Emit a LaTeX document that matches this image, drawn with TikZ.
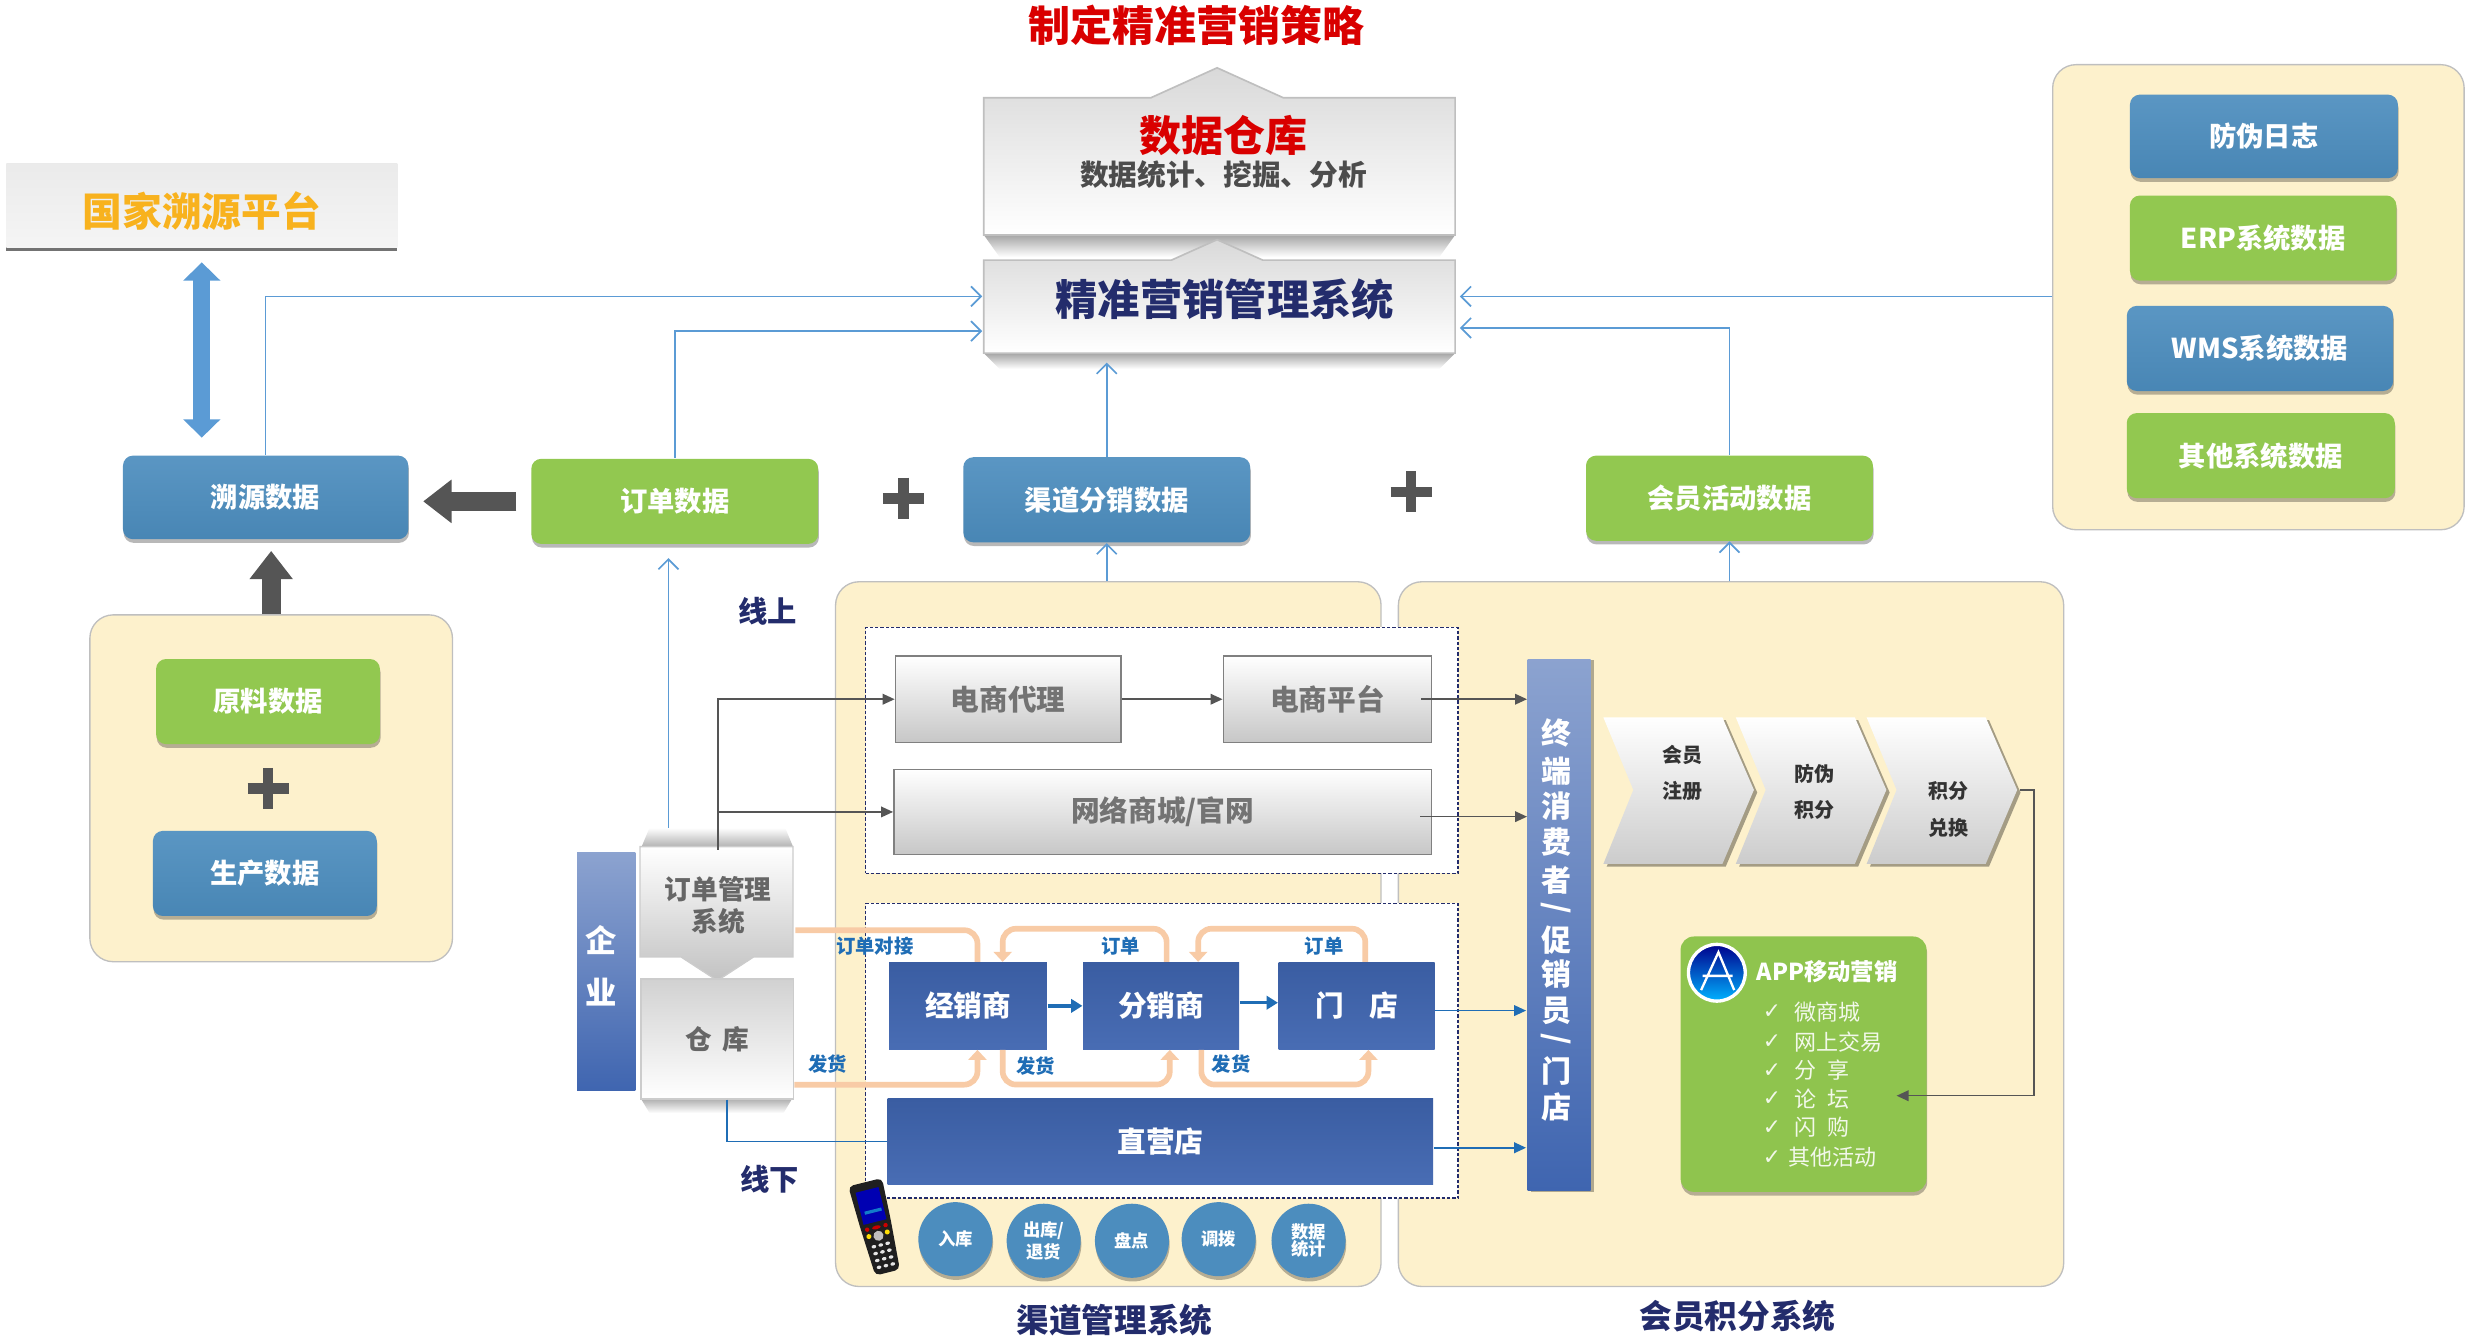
\documentclass[tikz,border=0pt]{standalone}
\usepackage{fontspec}
\setmainfont{Noto Sans CJK SC}
\newfontfamily\Dsym{DejaVu Sans}
\usetikzlibrary{arrows.meta,shadows}
\newcommand{\Du}{0.47296pt}
\newcommand{\Dfs}[1]{\fontsize{#1}{#1}\selectfont}
\definecolor{Cbeige}{HTML}{FDF1CC}
\definecolor{Cblue}{HTML}{4C8DBE}
\definecolor{Cgreen}{HTML}{92C850}
\definecolor{Cnavy}{HTML}{232C6C}
\definecolor{Cpeach}{HTML}{F8CBA6}
\definecolor{Cdeep}{HTML}{3F65B0}
\definecolor{Cline}{HTML}{5B9BD5}
\definecolor{Clabel}{HTML}{1F6DB5}
\definecolor{Cdark}{HTML}{555555}
\definecolor{Cgold}{HTML}{F8B21E}
\tikzset{%
    Dsz/.style 2 args={minimum width=#1*\Du, minimum height=#2*\Du, inner sep=0pt},
    Dshadow/.style={general shadow={shadow xshift=0.2pt, shadow yshift=-1.1pt, fill=black, opacity=0.28}},
    Dbluebox/.style={rounded corners=3pt, top color=Cblue!92!white, bottom color=Cblue!95!black, Dshadow,
        text=white, font=\Dfs{8.2}\bfseries},
    Dgreenbox/.style={rounded corners=3pt, fill=Cgreen, Dshadow, text=white, font=\Dfs{8.2}\bfseries},
    Dpanel/.style={rounded corners=7pt, fill=Cbeige, draw=black!25, line width=0.4pt},
    Ddash/.style={fill=white, draw=Cnavy, dash pattern=on 1pt off 0.6pt, line width=0.5pt},
    Dgraybox/.style={draw=black!50, line width=0.5pt, top color=white, bottom color=black!22,
        text=black!55, font=\Dfs{8.6}\bfseries},
    Ddeepbox/.style={top color=Cdeep!92!black, bottom color=Cdeep!95!white, text=white, font=\Dfs{8.6}\bfseries},
    Dround/.style={circle, minimum size=47*\Du, inner sep=0pt, fill=Cblue, Dshadow, text=white,
        font=\Dfs{5.2}\bfseries, align=center},
    Dfade/.style={top color=black!35, bottom color=white},
    Dthin/.style={draw=Cline, line width=0.5pt, -{Straight Barb[length=3pt,width=6pt]}},
    Dgray/.style={draw=Cdark, line width=0.45pt, -{Triangle[length=3.6pt,width=3.2pt]}},
    Dsteel/.style={draw=Clabel, line width=0.5pt, -{Triangle[length=3.6pt,width=3.2pt]}},
    Dblock/.style={draw=Cdark, line width=5.7pt, -{Triangle[length=8.5pt,width=12.5pt]}},
    Dpeach/.style={draw=Cpeach, line width=1.7pt, rounded corners=4pt},
    Dpeachtip/.style={Dpeach, -{Triangle[length=3pt,width=5.4pt]}},
    Dtag/.style={text=Clabel, font=\Dfs{5.8}\bfseries},
    Dtitle/.style={text=Cnavy, font=\Dfs{9.8}\bfseries}
}

\begin{document}
\begin{tikzpicture}[x=\Du,y=-\Du]
    \useasboundingbox (0,0) rectangle (1568,850);
    % panels
    \node [Dpanel,Dsz={230}{220}] (Nleftp) at (172,500) {};
    \node [Dpanel,Dsz={261}{295}] (Nrightp) at (1432.5,188.5) {};
    \node [Dpanel,Dsz={346}{447}] (Nchanp) at (703,592.5) {};
    \node [Dpanel,Dsz={422}{447}] (Nmembp) at (1098,592.5) {};
    \node [Ddash,Dsz={376}{156}] (Nonline) at (737,476) {};
    \node [Ddash,Dsz={376}{187}] (Noffline) at (737,666.5) {};
    % top stack
    \node [red!85!black,font=\Dfs{12.6}\bfseries] (Nstrategy) at (759,16) {制定精准营销策略};
    \path [Dfade] (624,149)--(923,149)--(913,163)--(634,163)--cycle;
    \path [draw=black!25,line width=0.5pt,top color=black!15,middle color=black!5,bottom color=white]
        (624,62)--(730,62)--(772,43)--(814,62)--(923,62)--(923,149)--(624,149)--cycle;
    \node [Dsz={299}{87}] (Nhouse) at (773.5,105.5) {};
    \node [red!85!black,font=\Dfs{12.6}\bfseries] (Nhouset) at (776,86) {数据仓库};
    \node [black!70,font=\Dfs{8.6}\bfseries] (Nhouses) at (776,111) {数据统计、挖掘、分析};
    \path [Dfade] (624,224)--(923,224)--(913,234)--(634,234)--cycle;
    \path [draw=black!25,line width=0.5pt,top color=black!15,middle color=black!4,bottom color=white]
        (624,165)--(743,165)--(772,152)--(801,165)--(923,165)--(923,224)--(624,224)--cycle;
    \node [Dsz={299}{59},text=Cnavy,font=\Dfs{12.7}\bfseries] (Nmarket) at (777,190) {精准营销管理系统};
    \node [Dsz={248}{53},top color=black!8,bottom color=black!4,
        general shadow={shadow yshift=-1pt,fill=black,opacity=0.55}] (Nnation) at (128,130.5) {};
    \node [text=Cgold,font=\Dfs{11.9}\bfseries] (Nnationt) at (128,134) {国家溯源平台};
    % data boxes
    \node [Dbluebox,Dsz={181}{53}] (Ntrace) at (168.5,315.5) {溯源数据};
    \node [Dgreenbox,Dsz={182}{54}] (Norder) at (428,318) {订单数据};
    \node [Dbluebox,Dsz={182}{54}] (Nchan) at (702,317) {渠道分销数据};
    \node [Dgreenbox,Dsz={182}{54}] (Nmember) at (1097,316) {会员活动数据};
    \node [Dgreenbox,Dsz={142}{54}] (Nraw) at (170,445) {原料数据};
    \node [Dbluebox,Dsz={142}{54}] (Nmake) at (168,554) {生产数据};
    \node [Dbluebox,Dsz={170}{53}] (Nlog) at (1436,86.5) {防伪日志};
    \node [Dgreenbox,Dsz={169}{54}] (Nerp) at (1435.5,151) {ERP系统数据};
    \node [Dbluebox,Dsz={169}{54}] (Nwms) at (1433.5,221) {WMS系统数据};
    \node [Dgreenbox,Dsz={170}{54}] (Nother) at (1434,289) {其他系统数据};
    \foreach \x/\y in {573/316,895/312,170/500}
        \draw [Cdark,line width=3.2pt] (\x-13,\y)--(\x+13,\y) (\x,\y-13)--(\x,\y+13);
    % online
    \node [Dgraybox,Dsz={143}{55}] (Nagent) at (639.5,443.5) {电商代理};
    \node [Dgraybox,Dsz={132}{55}] (Nplat) at (842,443.5) {电商平台};
    \node [Dgraybox,Dsz={341}{54}] (Nweb) at (737.5,515) {网络商城/官网};
    % enterprise column
    \node [Dsz={37}{151},top color=Cdeep!60!white,bottom color=Cdeep] (Nfirm) at (384.5,616.5) {};
    \node [text=white,font=\Dfs{9.4}\bfseries] (Nfirma) at (381,596) {企};
    \node [text=white,font=\Dfs{9.4}\bfseries] (Nfirmb) at (381,629) {业};
    \path [top color=white,bottom color=black!30] (412,525)--(498,525)--(503,537)--(407,537)--cycle;
    \path [draw=black!20,line width=0.4pt,top color=white,bottom color=black!24]
        (406,537)--(503,537)--(503,607)--(478,607)--(455,622)--(432,607)--(406,607)--cycle;
    \node [Dsz={97}{70},text=black!60,font=\Dfs{8}\bfseries,align=center] (Noms) at (455.5,574.5) {订单管理\\[1.6pt]系统};
    \path [Dfade] (406,696)--(503,696)--(497,706)--(412,706)--cycle;
    \node [Dsz={97}{76},draw=black!20,line width=0.4pt,top color=black!18,bottom color=white,
        text=black!60,font=\Dfs{8}\bfseries] (Nwh) at (455,659) {仓\hspace{0.4em}库};
    % offline boxes
    \node [Ddeepbox,Dsz={100}{55}] (Ndealer) at (614,638) {经销商};
    \node [Ddeepbox,Dsz={99}{55}] (Ndist) at (736.5,638) {分销商};
    \node [Ddeepbox,Dsz={99}{55}] (Nstore) at (860.5,638) {门\hspace{0.9em}店};
    \node [Ddeepbox,Dsz={346}{54}] (Ndirect) at (736,724) {直营店};
    % peach flows
    \draw [Dpeach] ([yshift=-15.5*\Du]Noms.east) -| ([xshift=6*\Du]Ndealer.north);
    \draw [Dpeachtip] ([xshift=3.5*\Du]Ndist.north) -- ++(0,-21) -| ([xshift=22*\Du]Ndealer.north);
    \draw [Dpeachtip] ([xshift=5.5*\Du]Nstore.north) -- ++(0,-21) -| ([xshift=23.5*\Du]Ndist.north);
    \draw [Dpeachtip] ([yshift=-29*\Du]Nwh.east) -| ([xshift=6*\Du]Ndealer.south);
    \draw [Dpeachtip] ([xshift=22*\Du]Ndealer.south) -- ++(0,22) -| ([xshift=5.5*\Du]Ndist.south);
    \draw [Dpeachtip] ([xshift=25.5*\Du]Ndist.south) -- ++(0,22) -| ([xshift=7.5*\Du]Nstore.south);
    \draw [draw=Clabel,line width=1pt,-{Triangle[length=3.4pt,width=4pt]}] (Ndealer.east) -- (Ndist.west);
    \draw [draw=Clabel,line width=1pt,-{Triangle[length=3.4pt,width=4pt]}] ([yshift=2*\Du]Ndist.east) -- ([yshift=2*\Du]Nstore.west);
    \node [Dtag] (Ltagdock) at (555,600) {订单对接};
    \node [Dtag] (Ltagb) at (711,600) {订单};
    \node [Dtag] (Ltagc) at (840,600) {订单};
    \node [Dtag] (Ltagd) at (525,675) {发货};
    \node [Dtag] (Ltage) at (657,676) {发货};
    \node [Dtag] (Ltagf) at (781,675) {发货};
    \node [Dtitle,font=\Dfs{8.8}\bfseries] (Lon) at (487,388) {线上};
    \node [Dtitle,font=\Dfs{8.8}\bfseries] (Loff) at (488,748) {线下};
    \node [Dtitle] (Lchan) at (707,837) {渠道管理系统};
    \node [Dtitle] (Lmemb) at (1102,835) {会员积分系统};
    % terminal column
    \node [Dsz={40}{337},top color=Cdeep!60!white,bottom color=Cdeep,
        general shadow={shadow xshift=1.1pt,shadow yshift=-0.4pt,fill=black,opacity=0.3}] (Nend) at (989,586.5) {};
    \foreach \t/\y in {终/465,端/489,消/511,费/534,者/558,\rotatebox{90}{/}/576,促/596,销/618,员/641,\rotatebox{90}{/}/659,门/679,店/702}
        \node [text=white,font=\Dfs{9}\bfseries] at (987,\y) {\t};
    % chevrons
    \foreach \a/\c/\n in {1017/1036/1,1101/1120/2,1184/1203/3}
        \path [top color=white,bottom color=black!20,
               general shadow={shadow xshift=1pt,shadow yshift=-0.8pt,fill=black,opacity=0.35}]
            (\a,455)--(\a+75.5,455)--(\a+95.5,501)--(\a+75.5,548)--(\a,548)--(\c,501)--cycle;
    \node [font=\Dfs{6}\bfseries,text=black!80] (Nreg) at (1067,479) {会员};
    \node [font=\Dfs{6}\bfseries,text=black!80] (Nregb) at (1067,502) {注册};
    \node [font=\Dfs{6}\bfseries,text=black!80] (Nfake) at (1151,491) {防伪};
    \node [font=\Dfs{6}\bfseries,text=black!80] (Nfakeb) at (1151,514) {积分};
    \node [font=\Dfs{6}\bfseries,text=black!80] (Nswap) at (1236,502) {积分};
    \node [font=\Dfs{6}\bfseries,text=black!80] (Nswapb) at (1236,525) {兑换};
    % app box
    \node [Dsz={156}{162},rounded corners=4pt,fill=Cgreen!98!black,Dshadow] (Napp) at (1144,675) {};
    \node [circle,minimum size=36*\Du,inner sep=0pt,draw=white,line width=1pt,
        top color=blue!55!black,bottom color=cyan!70!blue] (Nicon) at (1089,617) {};
    \draw [white,line width=0.7pt] (1079,628)--(1090,604)--(1100,628) (1080,619)--(1099,619);
    \node [text=white,font=\Dfs{7}\bfseries] (Napptitle) at (1159,616) {APP移动营销};
    \foreach \t/\x/\y in {微商城/1138/642,网上交易/1138/661,分\hspace{0.5em}享/1138/679,论\hspace{0.5em}坛/1138/697,闪\hspace{0.5em}购/1138/715,其他活动/1134/734}{
        \node [text=white!88!Cgreen,font=\Dsym\Dfs{6.5}] at (1124,\y) {✓};
        \node [anchor=west,inner sep=0pt,text=white!88!Cgreen,font=\Dfs{6.6}] at (\x,\y) {\t};
    }
    % round steps
    \node [Dround] (Nin) at (606,786) {入库};
    \node [Dround] (Nout) at (662,787) {出库/\\退货};
    \node [Dround] (Ncount) at (718,787) {盘点};
    \node [Dround] (Nmove) at (773,786) {调拨};
    \node [Dround] (Nstat) at (830,787) {数据\\统计};
    % scanner
    \begin{scope}[shift={(556,779)},rotate=14]
        \fill [black!88,rounded corners=1.5pt] (-11,-30)--(11,-30)--(10,-3)--(8,29)--(-8,29)--(-10,-3)--cycle;
        \fill [blue!70!black] (-7.5,-25) rectangle (7.5,-4);
        \fill [cyan!60!blue] (-5,-12) rectangle (6,-10);
        \fill [red!80!black] (-6,-0.5) circle (1.4) (0,-0.5) ellipse (2.8 and 1.2) (6,-0.5) circle (1.4);
        \fill [yellow!80!orange] (-6,4) circle (1.6) (6,4) circle (1.6);
        \fill [black!25] (0,5) circle (3.2);
        \foreach \r in {11,15.5,20,24.5}
            \foreach \c in {-4.5,0,4.5}
                \fill [white!90!black] (\c,\r) ellipse (1.5 and 1.1);
    \end{scope}
    % connectors
    \coordinate (Cmkta) at (623,188);
    \coordinate (Cmktb) at (623,210);
    \coordinate (Cmktc) at (702,230);
    \coordinate (Cmktd) at (926,188);
    \coordinate (Cmkte) at (926,208);
    \draw [Dthin] (Ntrace.north) |- (Cmkta);
    \draw [Dthin] (Norder.north) |- (Cmktb);
    \draw [Dthin] (Nchan.north) -- (Cmktc);
    \draw [Dthin] (Nrightp.west |- Cmktd) -- (Cmktd);
    \draw [Dthin] (Nmember.north) |- (Cmkte);
    \draw [Dthin] (Nchan.south |- Nchanp.north) -- (Nchan.south);
    \draw [Dthin] (Nmember.south |- Nmembp.north) -- (Nmember.south);
    \coordinate (Comsup) at (424,525);
    \coordinate (Corderin) at (424,354);
    \draw [Dthin] (Comsup) -- (Corderin);
    \draw [Dgray] (Nagent.east) -- (Nplat.west);
    \draw [Dgray] ([xshift=-7*\Du]Nplat.east) -- (Nend.west |- Nplat.east);
    \coordinate (Cwebs) at (901,518);
    \draw [Dgray] (Cwebs) -- (Nend.west |- Cwebs);
    \draw [Dgray] (Noms.north) |- (Nagent.west);
    \draw [Dgray] (Noms.north |- Nweb.west) -- (Nweb.west);
    \coordinate (Cendb) at (968,641);
    \coordinate (Cendc) at (968,728);
    \draw [Dsteel] (Nstore.east |- Cendb) -- (Cendb);
    \draw [Dsteel] (Ndirect.east |- Cendc) -- (Cendc);
    \draw [draw=Clabel,line width=0.5pt] ([xshift=6*\Du]Nwh.south) |- (Ndirect.west);
    \coordinate (Ctip) at (1281,501);
    \coordinate (Capp) at (1203,695);
    \draw [Dgray] (Ctip) -- ++(9,0) |- (Capp);
    % block arrows
    \draw [Dblock,shorten <=9*\Du,shorten >=9*\Du] (Norder.west) -- (Ntrace.east |- Norder.west);
    \draw [Dblock,shorten >=7*\Du] (Nleftp.north) -- (Nleftp.north |- Ntrace.south);
    \draw [draw=Cline,line width=5.2pt,{Triangle[length=5.5pt,width=10.9pt]}-{Triangle[length=5.5pt,width=10.9pt]},
        shorten <=9*\Du,shorten >=11*\Du] (Nnation.south) -- (Nnation.south |- Ntrace.north);
\end{tikzpicture}
\end{document}
